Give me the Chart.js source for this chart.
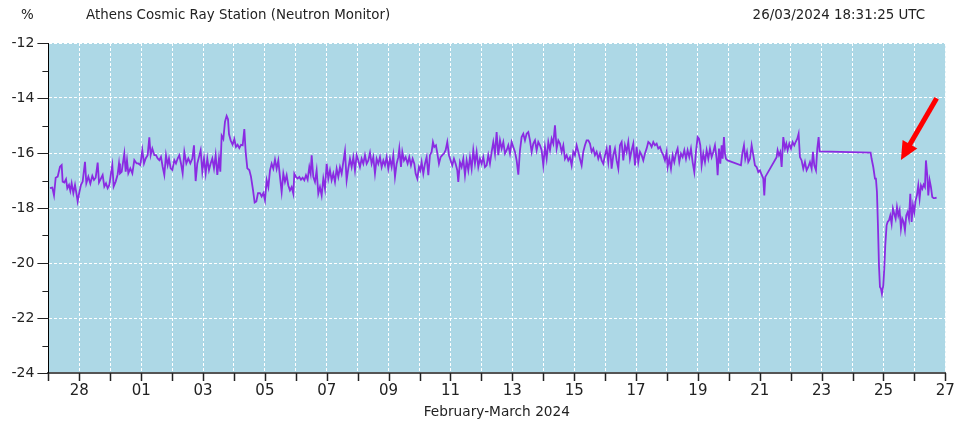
<!DOCTYPE html>
<html>
<head>
<meta charset="utf-8">
<title>Athens Cosmic Ray Station (Neutron Monitor)</title>
<script src="https://cdn.jsdelivr.net/npm/chart.js@4/dist/chart.umd.min.js"></script>
<style>
  html, body { margin: 0; padding: 0; background: #ffffff; }
  #wrap { width: 960px; height: 423px; }
</style>
</head>
<body>
<div id="wrap"><canvas id="nm" width="960" height="423"></canvas></div>
<script>
// Header and axis texts
const unitLabel = '%';
const stationTitle = 'Athens Cosmic Ray Station (Neutron Monitor)';
const stampText = '26/03/2024 18:31:25 UTC';
const periodTitle = 'February-March 2024';

// Day-of-month labels, one per day from 27 Feb 2024 00:00 UTC (index = days since then)
const dayLabels = ['27','28','29','01','02','03','04','05','06','07',
                   '08','09','10','11','12','13','14','15','16','17',
                   '18','19','20','21','22','23','24','25','26','27'];

// Percentage axis range
const yMin = -24;
const yMax = -12;

// Sample times, in days since 27 Feb 2024 00:00 UTC
const timeDays = [
  0.052,0.127,0.181,0.235,0.300,0.375,0.429,0.461,0.515,0.569,
  0.612,0.666,0.709,0.752,0.806,0.860,0.914,0.946,1.000,1.054,
  1.108,1.183,1.226,1.291,1.356,1.420,1.474,1.528,1.593,1.636,
  1.701,1.754,1.808,1.862,1.916,1.970,2.024,2.067,2.110,2.175,
  2.239,2.283,2.315,2.369,2.455,2.498,2.541,2.584,2.649,2.714,
  2.778,2.854,2.908,2.972,3.037,3.091,3.145,3.209,3.263,3.306,
  3.360,3.425,3.479,3.533,3.587,3.640,3.694,3.748,3.802,3.856,
  3.899,3.953,4.007,4.072,4.125,4.179,4.233,4.287,4.341,4.395,
  4.460,4.524,4.589,4.654,4.707,4.761,4.815,4.869,4.923,4.977,
  5.031,5.085,5.138,5.192,5.246,5.300,5.354,5.408,5.462,5.516,
  5.559,5.602,5.656,5.710,5.763,5.807,5.839,5.893,5.958,6.011,
  6.065,6.119,6.173,6.227,6.281,6.335,6.378,6.432,6.496,6.550,
  6.615,6.669,6.723,6.777,6.841,6.895,6.949,7.003,7.057,7.111,
  7.165,7.218,7.272,7.326,7.380,7.434,7.488,7.542,7.596,7.649,
  7.703,7.757,7.811,7.865,7.919,7.951,8.005,8.059,8.113,8.167,
  8.221,8.275,8.328,8.382,8.436,8.479,8.512,8.565,8.619,8.673,
  8.727,8.781,8.835,8.889,8.943,8.997,9.051,9.104,9.158,9.212,
  9.266,9.320,9.374,9.428,9.482,9.535,9.589,9.643,9.697,9.751,
  9.805,9.859,9.913,9.967,10.020,10.074,10.128,10.182,10.236,10.290,
  10.344,10.398,10.451,10.505,10.559,10.613,10.667,10.721,10.775,10.829,
  10.882,10.936,10.990,11.044,11.098,11.152,11.206,11.260,11.314,11.346,
  11.400,11.443,11.497,11.551,11.615,11.669,11.723,11.777,11.831,11.874,
  11.928,11.982,12.025,12.068,12.122,12.176,12.230,12.284,12.337,12.391,
  12.434,12.477,12.531,12.585,12.628,12.682,12.736,12.790,12.844,12.898,
  12.952,13.006,13.059,13.113,13.167,13.221,13.253,13.307,13.361,13.415,
  13.469,13.523,13.577,13.631,13.685,13.738,13.792,13.846,13.900,13.954,
  14.008,14.062,14.116,14.170,14.223,14.277,14.332,14.385,14.439,14.493,
  14.547,14.601,14.655,14.709,14.763,14.817,14.870,14.924,14.978,15.032,
  15.086,15.140,15.194,15.248,15.301,15.355,15.409,15.463,15.517,15.571,
  15.625,15.679,15.733,15.786,15.840,15.894,15.948,16.002,16.056,16.110,
  16.164,16.218,16.271,16.325,16.379,16.433,16.487,16.541,16.595,16.649,
  16.702,16.756,16.810,16.864,16.918,16.972,17.026,17.080,17.134,17.187,
  17.241,17.295,17.349,17.403,17.457,17.511,17.565,17.619,17.672,17.726,
  17.780,17.834,17.888,17.942,17.996,18.050,18.103,18.157,18.211,18.265,
  18.319,18.373,18.427,18.481,18.535,18.588,18.642,18.696,18.750,18.804,
  18.858,18.912,18.966,19.019,19.073,19.127,19.181,19.235,19.289,19.343,
  19.397,19.451,19.504,19.558,19.612,19.666,19.720,19.774,19.828,19.882,
  19.935,19.989,20.022,20.076,20.130,20.184,20.237,20.291,20.345,20.399,
  20.453,20.507,20.561,20.615,20.668,20.722,20.776,20.830,20.884,20.938,
  20.992,21.035,21.078,21.121,21.175,21.229,21.283,21.337,21.391,21.445,
  21.498,21.552,21.606,21.639,21.682,21.725,21.768,21.800,21.843,21.876,
  21.908,21.962,22.393,22.436,22.490,22.533,22.587,22.630,22.684,22.738,
  22.792,22.845,22.899,22.953,23.007,23.061,23.115,23.147,23.180,23.546,
  23.578,23.621,23.665,23.708,23.762,23.816,23.859,23.902,23.956,24.010,
  24.063,24.117,24.160,24.214,24.257,24.300,24.354,24.408,24.462,24.516,
  24.570,24.624,24.678,24.721,24.764,24.818,24.861,24.904,24.936,26.585,
  26.617,26.671,26.725,26.757,26.790,26.822,26.855,26.887,26.919,26.951,
  26.995,27.027,27.059,27.102,27.135,27.178,27.221,27.264,27.307,27.350,
  27.394,27.437,27.480,27.523,27.566,27.609,27.652,27.695,27.738,27.781,
  27.825,27.868,27.911,27.954,27.997,28.040,28.083,28.126,28.169,28.213,
  28.256,28.299,28.342,28.374,28.417,28.450,28.493,28.536,28.579,28.622,
  28.665,28.719
];

// Neutron monitor count rate, percent deviation
const percentDev = [
  -17.28,-17.26,-17.54,-16.90,-16.86,-16.50,-16.44,-17.04,-17.07,-16.95,
  -17.28,-17.16,-17.38,-17.10,-17.46,-17.16,-17.52,-17.76,-17.43,-17.16,
  -17.04,-16.32,-17.10,-16.86,-17.11,-16.83,-16.98,-16.90,-16.35,-17.07,
  -16.92,-16.80,-17.22,-17.10,-17.28,-17.16,-16.74,-16.44,-17.22,-17.04,
  -16.78,-16.38,-16.74,-16.68,-16.02,-16.68,-16.26,-16.74,-16.56,-16.74,
  -16.26,-16.38,-16.38,-16.44,-15.90,-16.38,-16.20,-16.08,-15.43,-16.08,
  -15.84,-16.08,-16.08,-16.20,-16.26,-16.14,-16.50,-16.80,-16.08,-16.44,
  -16.20,-16.56,-16.62,-16.26,-16.38,-16.20,-16.08,-16.38,-16.74,-15.96,
  -16.38,-16.20,-16.38,-16.20,-15.72,-17.02,-16.38,-16.14,-15.90,-16.68,
  -16.20,-16.74,-16.20,-16.62,-16.38,-16.20,-16.56,-16.08,-16.80,-16.20,
  -16.68,-15.37,-15.49,-14.86,-14.65,-14.77,-15.31,-15.54,-15.70,-15.49,
  -15.78,-15.70,-15.82,-15.70,-15.72,-15.13,-15.96,-16.56,-16.62,-16.86,
  -17.34,-17.80,-17.76,-17.46,-17.46,-17.58,-17.46,-17.72,-16.99,-17.24,
  -16.63,-16.39,-16.57,-16.24,-16.57,-16.27,-16.87,-17.42,-16.75,-17.05,
  -16.81,-17.18,-17.36,-17.24,-17.48,-16.75,-16.87,-16.93,-16.87,-16.97,
  -16.90,-16.99,-16.81,-16.97,-16.51,-16.75,-16.08,-16.87,-17.05,-16.63,
  -17.48,-17.24,-17.54,-16.93,-17.30,-16.39,-16.93,-16.63,-16.99,-16.75,
  -17.05,-16.57,-16.87,-16.51,-16.75,-16.33,-15.93,-16.99,-16.57,-16.21,
  -16.51,-16.15,-16.63,-16.08,-16.27,-16.51,-16.21,-16.39,-16.08,-16.39,
  -16.27,-15.99,-16.39,-16.15,-16.75,-16.21,-16.39,-16.15,-16.51,-16.27,
  -16.45,-16.15,-16.57,-16.21,-16.51,-16.08,-16.87,-16.39,-16.15,-15.84,
  -16.51,-15.96,-16.27,-16.15,-16.39,-16.15,-16.45,-16.21,-16.39,-16.75,
  -16.93,-16.51,-16.63,-16.33,-16.75,-16.39,-16.15,-16.81,-16.08,-15.96,
  -15.60,-15.78,-15.72,-16.08,-16.39,-16.15,-16.08,-16.02,-15.90,-15.60,
  -16.08,-16.27,-16.45,-16.21,-16.39,-16.63,-17.05,-16.33,-16.51,-16.21,
  -16.81,-16.27,-16.63,-16.15,-16.57,-15.90,-16.39,-15.96,-16.51,-16.21,
  -16.39,-16.15,-16.51,-16.45,-16.08,-16.39,-15.96,-15.60,-16.02,-15.24,
  -16.08,-15.54,-15.84,-15.60,-16.02,-15.90,-15.72,-16.02,-15.60,-15.78,
  -15.96,-16.27,-16.79,-15.90,-15.42,-15.30,-15.54,-15.30,-15.24,-15.54,
  -15.96,-15.66,-15.54,-15.90,-15.60,-15.72,-15.90,-16.45,-15.78,-16.21,
  -15.60,-15.90,-15.48,-15.66,-14.99,-15.84,-15.54,-15.66,-15.96,-15.72,
  -16.21,-16.08,-16.27,-16.15,-16.45,-15.96,-16.08,-15.72,-15.96,-16.21,
  -16.45,-15.96,-15.72,-15.54,-15.54,-15.66,-15.96,-15.84,-16.08,-15.96,
  -16.21,-16.02,-16.27,-16.39,-16.08,-15.84,-16.33,-15.72,-16.57,-16.08,
  -15.84,-16.27,-16.57,-15.72,-15.60,-16.27,-15.72,-15.96,-15.60,-16.21,
  -15.90,-15.66,-16.45,-15.78,-16.33,-15.96,-16.08,-16.27,-16.02,-15.84,
  -15.60,-15.66,-15.78,-15.60,-15.72,-15.66,-15.84,-15.78,-15.96,-16.08,
  -16.27,-15.96,-16.51,-16.21,-16.57,-16.08,-16.33,-16.02,-15.84,-16.33,
  -16.02,-16.15,-15.90,-16.21,-15.90,-16.15,-15.84,-16.33,-16.69,-15.96,
  -15.42,-15.48,-15.72,-16.45,-16.02,-16.33,-15.90,-16.21,-15.84,-16.15,
  -15.96,-15.72,-16.21,-16.81,-15.84,-16.39,-15.72,-16.21,-15.42,-16.02,
  -16.21,-16.27,-16.45,-16.02,-15.72,-16.21,-15.96,-16.33,-16.21,-15.72,
  -16.08,-16.45,-16.51,-16.69,-16.63,-16.79,-16.93,-17.54,-16.87,-16.15,
  -15.90,-16.08,-15.96,-16.51,-15.42,-15.84,-15.66,-15.90,-15.66,-15.84,
  -15.60,-15.72,-15.60,-15.48,-15.30,-16.15,-16.27,-16.57,-16.33,-16.63,
  -16.51,-16.33,-16.57,-15.96,-16.45,-16.63,-15.84,-15.42,-15.94,-15.99,
  -16.21,-16.51,-16.93,-16.93,-17.42,-18.63,-20.08,-20.87,-20.93,-21.12,
  -20.81,-20.21,-19.36,-18.63,-18.51,-18.45,-18.27,-18.57,-18.02,-18.21,
  -18.39,-17.96,-18.27,-18.08,-18.75,-18.39,-18.51,-18.81,-18.27,-18.15,
  -18.39,-17.48,-18.51,-17.90,-18.15,-17.72,-17.54,-17.18,-17.66,-17.18,
  -17.30,-17.15,-17.24,-16.27,-16.81,-17.54,-16.99,-17.24,-17.60,-17.64,
  -17.64,-17.62
];

// Red pointer drawn over the Forbush decrease (data units: days, percent)
const arrowTail = { x: 28.72, y: -14.01 };
const arrowHead = { x: 27.565, y: -16.25 };

const FONT = '"DejaVu Sans", Verdana, sans-serif';

const points = timeDays.map((t, i) => ({ x: t, y: percentDev[i] }));

// Light blue plot background
const plotBackground = {
  id: 'plotBackground',
  beforeDraw(chart) {
    const { ctx, chartArea: a } = chart;
    ctx.save();
    ctx.fillStyle = '#ADD8E6';
    ctx.fillRect(a.left, a.top, a.right - a.left, a.bottom - a.top);
    ctx.restore();
  }
};

// Outside tick marks: every day on the time axis, every unit on the % axis
const axisTicks = {
  id: 'axisTicks',
  afterDraw(chart) {
    const { ctx, chartArea: a, scales: { x, y } } = chart;
    ctx.save();
    ctx.strokeStyle = '#222';
    ctx.lineWidth = 1.5;
    for (let d = 0; d < dayLabels.length; d++) {
      const px = Math.round(x.getPixelForValue(d)) + 0.5;
      ctx.beginPath();
      ctx.moveTo(px, a.bottom);
      ctx.lineTo(px, a.bottom + 8);
      ctx.stroke();
    }
    ctx.lineWidth = 1;
    for (let v = yMin; v <= yMax; v++) {
      const py = Math.round(y.getPixelForValue(v)) + 0.5;
      const len = (v % 2 === 0) ? 11 : 6;
      ctx.beginPath();
      ctx.moveTo(a.left - len, py);
      ctx.lineTo(a.left, py);
      ctx.stroke();
    }
    ctx.restore();
  }
};

// Arrow annotation placed through the scales
const pointerArrow = {
  id: 'pointerArrow',
  afterDatasetsDraw(chart) {
    const { ctx, scales: { x, y } } = chart;
    const x0 = x.getPixelForValue(arrowTail.x), y0 = y.getPixelForValue(arrowTail.y);
    const x1 = x.getPixelForValue(arrowHead.x), y1 = y.getPixelForValue(arrowHead.y);
    const dx = x1 - x0, dy = y1 - y0, len = Math.hypot(dx, dy);
    const ux = dx / len, uy = dy / len, nx = -uy, ny = ux;
    const headLen = 18, headHalf = 8.5;
    const bx = x1 - ux * headLen, by = y1 - uy * headLen;
    ctx.save();
    ctx.strokeStyle = '#FF0000';
    ctx.fillStyle = '#FF0000';
    ctx.lineWidth = 5;
    ctx.lineCap = 'butt';
    ctx.beginPath();
    ctx.moveTo(x0, y0);
    ctx.lineTo(bx + ux * 2, by + uy * 2);
    ctx.stroke();
    ctx.beginPath();
    ctx.moveTo(x1, y1);
    ctx.lineTo(bx + nx * headHalf, by + ny * headHalf);
    ctx.lineTo(bx - nx * headHalf, by - ny * headHalf);
    ctx.closePath();
    ctx.fill();
    ctx.restore();
  }
};

// Header line and time-axis caption
const captions = {
  id: 'captions',
  afterDraw(chart) {
    const { ctx, chartArea: a } = chart;
    ctx.save();
    ctx.fillStyle = '#222';
    ctx.font = '13.4px ' + FONT;
    ctx.textBaseline = 'alphabetic';
    ctx.textAlign = 'left';
    ctx.fillText(unitLabel, 21, 18.5);
    ctx.fillText(stationTitle, 86, 18.5);
    ctx.textAlign = 'right';
    ctx.fillText(stampText, 925, 18.5);
    ctx.textAlign = 'center';
    ctx.font = '13.7px ' + FONT;
    ctx.fillText(periodTitle, (a.left + a.right) / 2, 416);
    ctx.restore();
  }
};

new Chart(document.getElementById('nm'), {
  type: 'line',
  data: {
    datasets: [{
      data: points,
      borderColor: '#8A2BE2',
      borderWidth: 1.8,
      pointRadius: 0,
      tension: 0,
      fill: false
    }]
  },
  options: {
    responsive: false,
    animation: false,
    events: [],
    layout: { padding: { top: 43, right: 14.7, left: 0, bottom: 0 } },
    plugins: { legend: { display: false }, tooltip: { enabled: false }, title: { display: false } },
    scales: {
      x: {
        type: 'linear',
        min: 0,
        max: dayLabels.length - 1,
        afterFit(scale) {
          scale.height = 50;
          scale.paddingLeft = 0;
          scale.paddingRight = 0;
        },
        afterBuildTicks(scale) { scale.ticks = dayLabels.map((_, i) => ({ value: i })); },
        ticks: {
          autoSkip: false,
          maxRotation: 0,
          padding: 9,
          color: '#222',
          font: { family: FONT, size: 15 },
          callback: (value) => (value % 2 === 1 ? dayLabels[value] : '')
        },
        grid: { color: '#ffffff', lineWidth: 1, drawTicks: false },
        border: { display: true, color: '#555555', width: 2, dash: [3, 2] }
      },
      y: {
        type: 'linear',
        min: yMin,
        max: yMax,
        afterFit(scale) {
          scale.width = 48.4;
          scale.paddingTop = 0;
          scale.paddingBottom = 0;
        },
        afterBuildTicks(scale) {
          const t = [];
          for (let v = yMin; v <= yMax; v++) t.push({ value: v });
          scale.ticks = t;
        },
        ticks: {
          autoSkip: false,
          padding: 14,
          color: '#222',
          font: { family: FONT, size: 14 },
          callback: (value) => (value % 2 === 0 ? String(value) : '')
        },
        grid: {
          color: (c) => (c.tick && c.tick.value % 2 === 0 ? '#ffffff' : 'rgba(0,0,0,0)'),
          lineWidth: 1,
          drawTicks: false
        },
        border: { display: true, color: '#000000', width: 1, dash: [3, 2] }
      }
    }
  },
  plugins: [plotBackground, pointerArrow, axisTicks, captions]
});
</script>
</body>
</html>
